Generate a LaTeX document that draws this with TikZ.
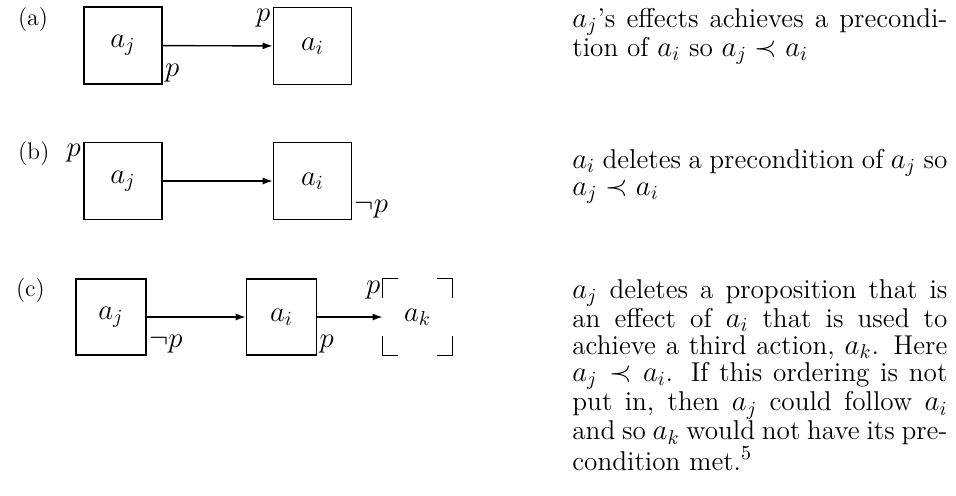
\documentclass[tikz,border=0pt]{standalone}
\usepackage{amsmath}
\usetikzlibrary{arrows.meta}

\begin{document}
\begin{tikzpicture}[
    x=0.5pt, y=-0.5pt,
    every node/.style={font=\fontsize{13.6}{13.5}\selectfont},
    tag/.style={font=\fontsize{12}{13.5}\selectfont, anchor=west},
    action/.style={
        rectangle,
        draw,
        line width=0.8pt,
        minimum width=39pt,
        minimum height=38.5pt,
        inner sep=0pt
    },
    smallaction/.style={action, minimum width=35pt, minimum height=38pt},
    goal/.style={rectangle, minimum width=34.5pt, minimum height=38pt, inner sep=0pt},
    prop/.style={inner sep=1pt},
    arrow/.style={-{Latex[length=5pt,width=3.5pt]}, line width=0.7pt},
    caption/.style={text width=187.5pt, align=justify, anchor=base west, inner sep=0pt}
]
\useasboundingbox (0,0) rectangle (956,495);

% (a) achieved precondition
\node[tag] (la) at (11,20) {(a)};
\node[action] (aj1) at (123,45.5) {$a_j$};
\node[action] (ai1) at (312.5,46) {$a_i$};
\draw[arrow] (aj1) -- (ai1);
\node[prop, anchor=south west] (p1) at (aj1.south east) {$p$};
\node[prop, anchor=north east] (p2) at (ai1.north west) {$p$};
\node[caption] (ta) at (572,27) {$a_j$'s effects achieves a precondi-\linebreak
    tion of $a_i$ so $a_j \prec a_i$};

% (b) deleted precondition
\node[tag] (lb) at (11,153) {(b)};
\node[action] (aj2) at (123,181) {$a_j$};
\node[action] (ai2) at (312.5,181) {$a_i$};
\draw[arrow] (aj2) -- (ai2);
\node[prop, anchor=north east] (p3) at (aj2.north west) {$p$};
\node[prop, anchor=south west] (p4) at (ai2.south east) {$\neg p$};
\node[caption] (tb) at (572,168) {$a_i$ deletes a precondition of $a_j$ so\linebreak
    $a_j \prec a_i$};

% (c) threatened link to a third action
\node[tag] (lc) at (9,290) {(c)};
\node[smallaction] (aj3) at (111,317) {$a_j$};
\node[smallaction] (ai3) at (281.5,317) {$a_i$};
\node[goal] (ak) at (417.5,317) {$a_k$};
\draw[arrow] (aj3) -- (ai3);
\draw[arrow] (ai3) -- (ak);
\node[prop, anchor=south west] (p5) at (aj3.south east) {$\neg p$};
\node[prop, anchor=south west] (p6) at (ai3.south east) {$p$};
\node[prop, anchor=north east] (p7) at (ak.north west) {$p$};
\draw[line width=0.8pt] ([yshift=-9.5pt]ak.north west) -- (ak.north west) -- ++(15,0);
\draw[line width=0.8pt] ([yshift=-9.5pt]ak.north east) -- (ak.north east) -- ++(-15,0);
\draw[line width=0.8pt] ([yshift=9.5pt]ak.south west) -- (ak.south west) -- ++(15,0);
\draw[line width=0.8pt] ([yshift=9.5pt]ak.south east) -- (ak.south east) -- ++(-15,0);
\node[caption] (tc) at (572,298) {$a_j$ deletes a proposition that is\linebreak
    an effect of $a_i$ that is used to\linebreak
    achieve a third action, $a_k$. Here\linebreak
    $a_j \prec a_i$. If this ordering is not\linebreak
    put in, then $a_j$ could follow $a_i$\linebreak
    and so $a_k$ would not have its pre-\linebreak
    condition met.$^5$};

\end{tikzpicture}
\end{document}
